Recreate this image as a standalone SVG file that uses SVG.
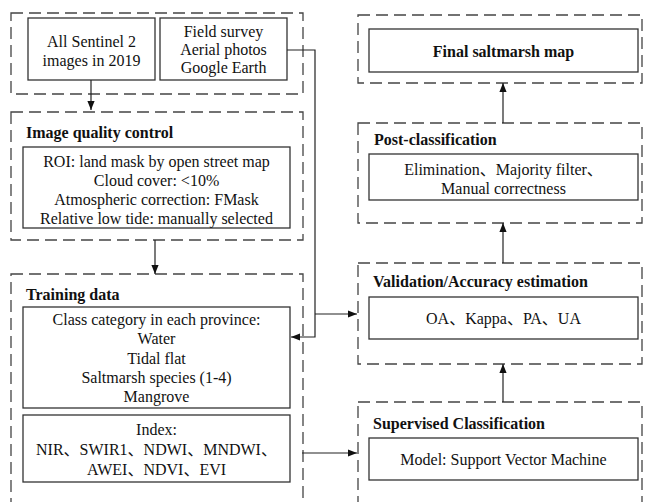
<svg xmlns="http://www.w3.org/2000/svg" width="649" height="502" viewBox="0 0 649 502">
<defs>
<style>
.dash{fill:none;stroke:#444;stroke-width:1.3;stroke-dasharray:12 6}
.box{fill:#fff;stroke:#333;stroke-width:1.3}
.t{font-family:'Liberation Serif','Noto Sans CJK SC',serif;font-size:16px;fill:#111;text-anchor:middle}
.b{font-family:'Liberation Serif','Noto Sans CJK SC',serif;font-size:16px;font-weight:bold;fill:#111}
.c{fill:none;stroke:#222;stroke-width:1.2}
</style>
<marker id="ah" viewBox="0 0 10 10" refX="10" refY="5" markerWidth="9" markerHeight="9" markerUnits="userSpaceOnUse" orient="auto">
<path d="M0,1 L10,5 L0,9 z" fill="#111"/>
</marker>
</defs>
<rect width="649" height="502" fill="#fff"/>

<g id="input-group">
<rect class="dash" x="11" y="13" width="292" height="81"/>
</g>
<g id="sentinel">
<rect class="box" x="28" y="18" width="127" height="62"/>
<text class="t" x="91.5" y="47">All Sentinel 2</text>
<text class="t" x="91.5" y="66">images in 2019</text>
</g>
<g id="field">
<rect class="box" x="160" y="18" width="127" height="62"/>
<text class="t" x="223.5" y="37">Field survey</text>
<text class="t" x="223.5" y="55">Aerial photos</text>
<text class="t" x="223.5" y="73">Google Earth</text>
</g>

<g id="iqc">
<rect class="dash" x="11" y="112" width="292" height="128"/>
<text class="b" x="26" y="138">Image quality control</text>
<rect class="box" x="23" y="147" width="267" height="81"/>
<text class="t" x="156.5" y="167">ROI: land mask by open street map</text>
<text class="t" x="156.5" y="186">Cloud cover: &lt;10%</text>
<text class="t" x="156.5" y="205">Atmospheric correction: FMask</text>
<text class="t" x="156.5" y="224">Relative low tide: manually selected</text>
</g>

<g id="training">
<rect class="dash" x="11" y="274" width="292" height="240"/>
<text class="b" x="26" y="300">Training data</text>
<rect class="box" x="23" y="307" width="267" height="101"/>
<text class="t" x="156.5" y="325">Class category in each province:</text>
<text class="t" x="156.5" y="344">Water</text>
<text class="t" x="156.5" y="364">Tidal flat</text>
<text class="t" x="156.5" y="383">Saltmarsh species (1-4)</text>
<text class="t" x="156.5" y="402">Mangrove</text>
<rect class="box" x="23" y="415" width="267" height="67"/>
<text class="t" x="156.5" y="435">Index:</text>
<text class="t" x="156.5" y="455">NIR、SWIR1、NDWI、MNDWI、</text>
<text class="t" x="156.5" y="475">AWEI、NDVI、EVI</text>
</g>

<g id="final">
<rect class="dash" x="358" y="15" width="284" height="68"/>
<rect class="box" x="369" y="29" width="269" height="43"/>
<text class="b" x="503.5" y="57" text-anchor="middle">Final saltmarsh map</text>
</g>

<g id="post">
<rect class="dash" x="358" y="123" width="284" height="100"/>
<text class="b" x="374" y="145">Post-classification</text>
<rect class="box" x="369" y="154" width="269" height="46"/>
<text class="t" x="503.5" y="175">Elimination、Majority filter、</text>
<text class="t" x="503.5" y="194">Manual correctness</text>
</g>

<g id="validation">
<rect class="dash" x="358" y="263" width="284" height="101"/>
<text class="b" x="373" y="287">Validation/Accuracy estimation</text>
<rect class="box" x="369" y="297" width="269" height="42"/>
<text class="t" x="503.5" y="324">OA、Kappa、PA、UA</text>
</g>

<g id="supervised">
<rect class="dash" x="358" y="402" width="284" height="120"/>
<text class="b" x="373" y="429">Supervised Classification</text>
<rect class="box" x="369" y="438" width="269" height="42"/>
<text class="t" x="503.5" y="465">Model: Support Vector Machine</text>
</g>

<g id="connectors">
<line class="c" x1="91" y1="80" x2="91" y2="110" marker-end="url(#ah)"/>
<line class="c" x1="155" y1="240" x2="155" y2="274" marker-end="url(#ah)"/>
<polyline class="c" points="287,50 315,50 315,337 291,337" marker-end="url(#ah)"/>
<line class="c" x1="315" y1="314" x2="357" y2="314" marker-end="url(#ah)"/>
<line class="c" x1="302" y1="453" x2="357" y2="453" marker-end="url(#ah)"/>
<line class="c" x1="503" y1="402" x2="503" y2="364" marker-end="url(#ah)"/>
<line class="c" x1="503" y1="263" x2="503" y2="223" marker-end="url(#ah)"/>
<line class="c" x1="503" y1="123" x2="503" y2="83" marker-end="url(#ah)"/>
</g>
</svg>
